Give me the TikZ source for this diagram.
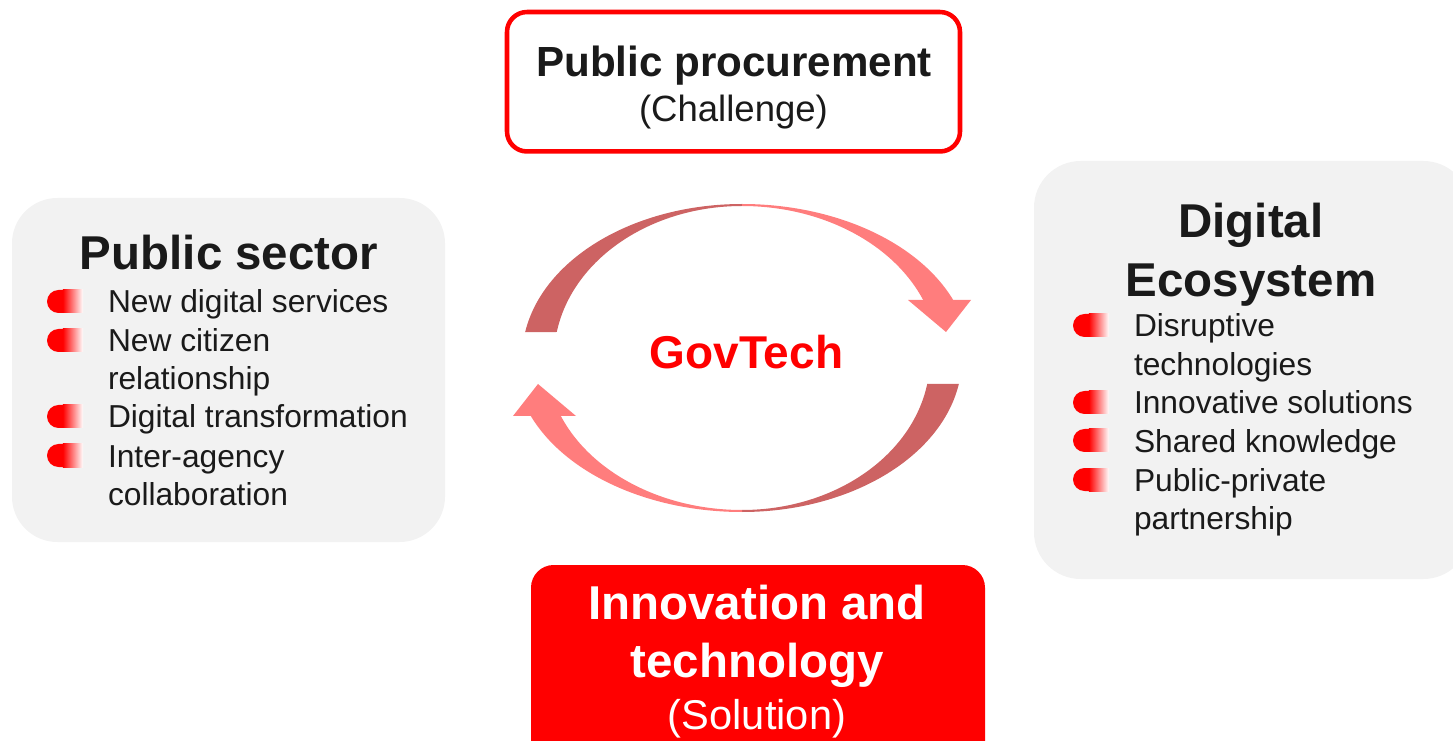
\documentclass[tikz,border=0pt]{standalone}
\usepackage{fontspec}
\setmainfont{Liberation Sans}
\definecolor{boxgray}{RGB}{242,242,242}
\definecolor{txt}{RGB}{26,26,26}
\definecolor{arrdark}{RGB}{205,99,99}
\definecolor{arrlight}{RGB}{255,125,125}
\definecolor{pure}{RGB}{255,0,0}
\tikzset{
  lbl/.style={inner sep=0pt, outer sep=0pt, text=txt},
  title/.style={lbl, anchor=base, font=\fontsize{35.6pt}{42pt}\selectfont\bfseries},
  item/.style={lbl, anchor=base west, font=\fontsize{23.8pt}{28.8pt}\selectfont},
  graybox/.style={fill=boxgray, draw=none, inner sep=0pt},
  bul/.pic={
    \fill[pure] (16,-23) -- (11.5,-23) arc[start angle=90,end angle=270,radius=8.625pt] -- (16,0) -- cycle;
    \shade[left color=pure, right color=white] (15.8,-23) rectangle (36,0);
  },
  toparrow/.pic={
    \fill[arrdark] (170.3:165pt and 115.5pt)
      arc[start angle=170.3, end angle=90, x radius=165pt, y radius=115.5pt]
      -- (90:141pt and 114pt)
      arc[start angle=90, end angle=170.15, x radius=141pt, y radius=114pt] -- cycle;
    \fill[arrlight] (90:171pt and 115.5pt)
      arc[start angle=90, end angle=22.1, x radius=171pt, y radius=115.5pt]
      -- (22.4:147pt and 114pt)
      arc[start angle=22.4, end angle=90, x radius=147pt, y radius=114pt] -- cycle;
    \fill[arrlight] (166,-58) -- (229,-58) -- (204,-26) -- cycle;
  }
}
\begin{document}
\begin{tikzpicture}[x=0.75pt,y=-0.75pt]
\useasboundingbox (0,0) rectangle (1453,741);
\clip (0,0) rectangle (1453,741);

% boxes
\node[draw=pure, line width=3.4pt, fill=white, rounded corners=15pt,
      minimum width=339.75pt, minimum height=104.6pt, inner sep=0pt] (challenge) at (733.5,81.75) {};
\node[graybox, rounded corners=34pt, minimum width=324.75pt, minimum height=258pt] (sector) at (228.5,370) {};
\node[graybox, rounded corners=35pt, minimum width=327pt, minimum height=313.5pt] (eco) at (1252,370) {};
\node[fill=pure, draw=none, rounded corners=17pt, minimum width=340.5pt, minimum height=176.25pt, inner sep=0pt] (solution) at (758,682.5) {};

% top box text
\node[lbl, anchor=base, font=\fontsize{31.6pt}{38pt}\selectfont\bfseries] (pp) at (734,77) {Public procurement};
\node[lbl, anchor=base, font=\fontsize{27.4pt}{33pt}\selectfont] (ch) at (733.5,122) {(Challenge)};

% left box
\node[title] (pst) at (229,270) {Public sector};
\foreach \y in {313,352,428,467} { \pic at (47,\y) {bul}; }
\node[item] (l1) at (108,313) {New digital services};
\node[item] (l2) at (108,352) {New citizen};
\node[item] (l2b) at (108,390) {relationship};
\node[item] (l3) at (108,428) {Digital transformation};
\node[item] (l4) at (108,467) {Inter-agency};
\node[item] (l4b) at (108,505) {collaboration};

% right box
\node[title] (det1) at (1251,238) {Digital};
\node[title] (det2) at (1251,297) {Ecosystem};
\foreach \y in {337,414,452,491} { \pic at (1073,\y) {bul}; }
\node[item] (r1) at (1134,337) {Disruptive};
\node[item] (r1b) at (1134,375.5) {technologies};
\node[item] (r2) at (1134,414) {Innovative solutions};
\node[item] (r3) at (1134,452) {Shared knowledge};
\node[item] (r4) at (1134,491) {Public-private};
\node[item] (r4b) at (1134,529) {partnership};

% cycle arrows
\coordinate (ctr) at (742,358);
\pic[shift={(742,358)}] {toparrow};
\pic[shift={(742,358)}, rotate=180] {toparrow};
\node[lbl, anchor=base, text=pure, font=\fontsize{34.5pt}{41pt}\selectfont\bfseries] (gov) at (746.5,369) {GovTech};

% bottom box text
\node[lbl, anchor=base, text=white, font=\fontsize{35.6pt}{42pt}\selectfont\bfseries] (inn1) at (757,619) {Innovation and};
\node[lbl, anchor=base, text=white, font=\fontsize{35.6pt}{42pt}\selectfont\bfseries] (inn2) at (757,677) {technology};
\node[lbl, anchor=base, text=white, font=\fontsize{31.2pt}{37pt}\selectfont] (sol) at (757,729) {(Solution)};
\end{tikzpicture}
\end{document}
